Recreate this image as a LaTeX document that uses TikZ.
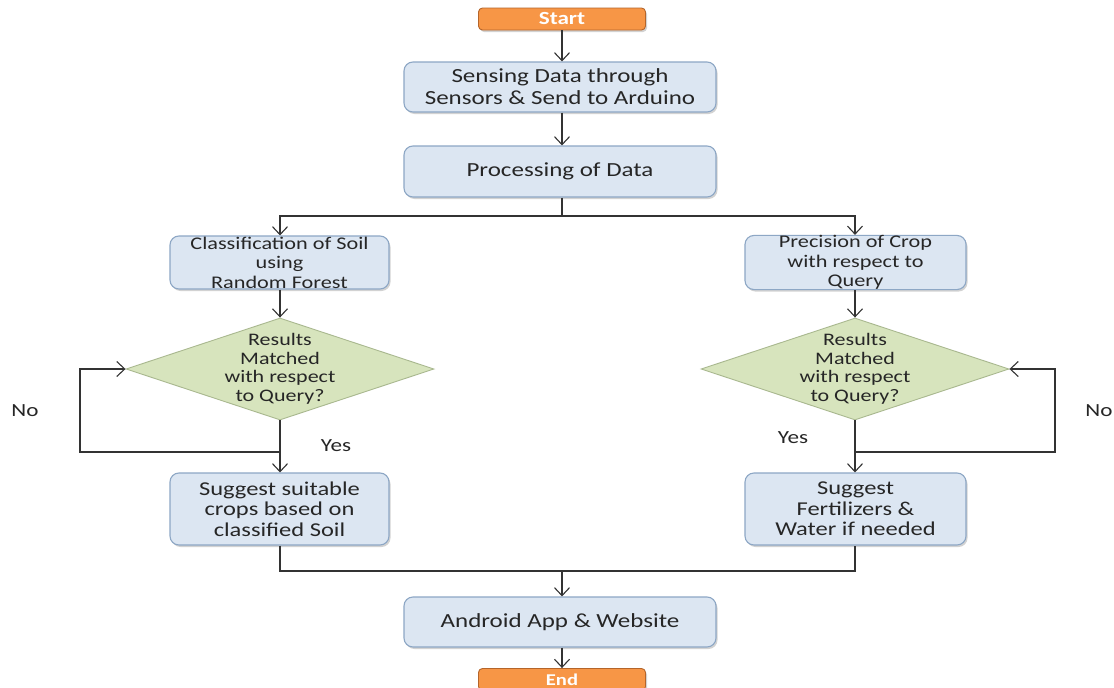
\documentclass[tikz,border=0pt]{standalone}
\usepackage{fontspec}
\setmainfont{Carlito}[FakeStretch=1.25]
\usetikzlibrary{arrows.meta,shapes.geometric,shadows}
\definecolor{boxfill}{HTML}{DCE6F2}
\definecolor{boxdraw}{HTML}{8DA7C5}
\definecolor{dfill}{HTML}{D7E4BD}
\definecolor{ddraw}{HTML}{A9B88F}
\definecolor{ofill}{HTML}{F79646}
\definecolor{odraw}{HTML}{B5652A}
\definecolor{txt}{HTML}{262626}
\tikzset{
  procbox/.style={rectangle, rounded corners=9pt, draw=boxdraw, line width=1.1pt, fill=boxfill,
    align=center, text=txt, inner sep=0pt,
    drop shadow={shadow xshift=1.5pt, shadow yshift=-2pt, opacity=0.35}},
  termbox/.style={rectangle, rounded corners=4pt, draw=odraw, line width=0.9pt, fill=ofill,
    text=white, font=\fontsize{18.5}{20}\selectfont\bfseries, inner sep=0pt,
    minimum width=167pt, minimum height=22pt,
    drop shadow={shadow xshift=1.5pt, shadow yshift=-2pt, opacity=0.35}},
  decbox/.style={diamond, aspect=3, draw=ddraw, line width=0.9pt, fill=dfill, inner sep=0pt,
    minimum width=308pt, minimum height=102pt},
  dectext/.style={align=center, text=txt, font=\fontsize{17.6}{18.5}\selectfont},
  lbl/.style={text=txt, font=\fontsize{18.5}{20}\selectfont},
  arr/.style={draw=black!80, line width=1.1pt, -{Straight Barb[length=8pt,width=15pt,line width=1.1pt]}},
  ln/.style={draw=black!80, line width=1.1pt}
}
\begin{document}
\begin{tikzpicture}[x=1pt,y=-1pt]
\useasboundingbox (0,0) rectangle (1114,688);
\fill[white] (0,0) rectangle (1114,688);

\node[termbox] (start) at (562,19) {Start};
\node[procbox, minimum width=312pt, minimum height=50pt, font=\fontsize{20}{22}\selectfont] (sense) at (560,87) {Sensing Data through\\Sensors \& Send to Arduino};
\node[procbox, minimum width=312pt, minimum height=51pt, font=\fontsize{20}{22}\selectfont] (proc) at (560,171.5) {Processing of Data};

\node[procbox, minimum width=219pt, minimum height=53pt, font=\fontsize{17.8}{19.5}\selectfont] (class) at (279.5,262.5) {Classification of Soil\\using\\Random Forest};
\node[procbox, minimum width=221pt, minimum height=53pt, font=\fontsize{17.8}{19.5}\selectfont] (prec) at (855.5,262.5) {Precision of Crop\\with respect to\\Query};

\node[decbox] (dl) at (280,369) {};
\node[dectext] (dlt) at (dl.center) {Results\\Matched\\with respect\\to Query?};
\node[decbox] (dr) at (855,369) {};
\node[dectext] (drt) at (dr.center) {Results\\Matched\\with respect\\to Query?};

\node[procbox, minimum width=219pt, minimum height=72pt, font=\fontsize{19.6}{20.5}\selectfont] (sl) at (279.5,509) {Suggest suitable\\crops based on\\classified Soil};
\node[procbox, minimum width=221pt, minimum height=72pt, font=\fontsize{19.6}{20.5}\selectfont] (sr) at (855.5,509) {Suggest\\Fertilizers \&\\Water if needed};

\node[procbox, minimum width=312pt, minimum height=50pt, font=\fontsize{20}{22}\selectfont] (app) at (560,622) {Android App \& Website};
\node[termbox, font=\fontsize{16.5}{18}\selectfont\bfseries] (end) at (562,679.5) {End};

\node[lbl] (nol) at (25,411) {No};
\node[lbl] (yesl) at (336,446) {Yes};
\node[lbl] (nor) at (1099,411) {No};
\node[lbl] (yesr) at (793,438) {Yes};

% connectors
\coordinate (split) at (562,216);
\coordinate (lj) at (280,452);
\coordinate (lc) at (80,369);
\coordinate (rj) at (855,452);
\coordinate (rc) at (1055,369);
\coordinate (mj) at (562,571);

\draw[arr] (start.south) -- (start.south |- sense.north);
\draw[arr] (sense.south -| start.south) -- (start.south |- proc.north);
\draw[ln] (proc.south -| split) -- (split);
\draw[arr] (split) -| (class.north -| dl.north);
\draw[arr] (split) -| (prec.north -| dr.north);
\draw[arr] (class.south -| dl.north) -- (dl.north);
\draw[arr] (prec.south -| dr.north) -- (dr.north);
\draw[arr] (dl.south) -- (dl.south |- sl.north);
\draw[arr] (dr.south) -- (dr.south |- sr.north);
\draw[arr] (lj) -| (lc) -- (dl.west);
\draw[arr] (rj) -| (rc) -- (dr.east);
\draw[ln] (sl.south -| dl.south) |- (mj) -| (sr.south -| dr.south);
\draw[arr] (mj) -- (mj |- app.north);
\draw[arr] (app.south -| mj) -- (mj |- end.north);
\end{tikzpicture}
\end{document}
